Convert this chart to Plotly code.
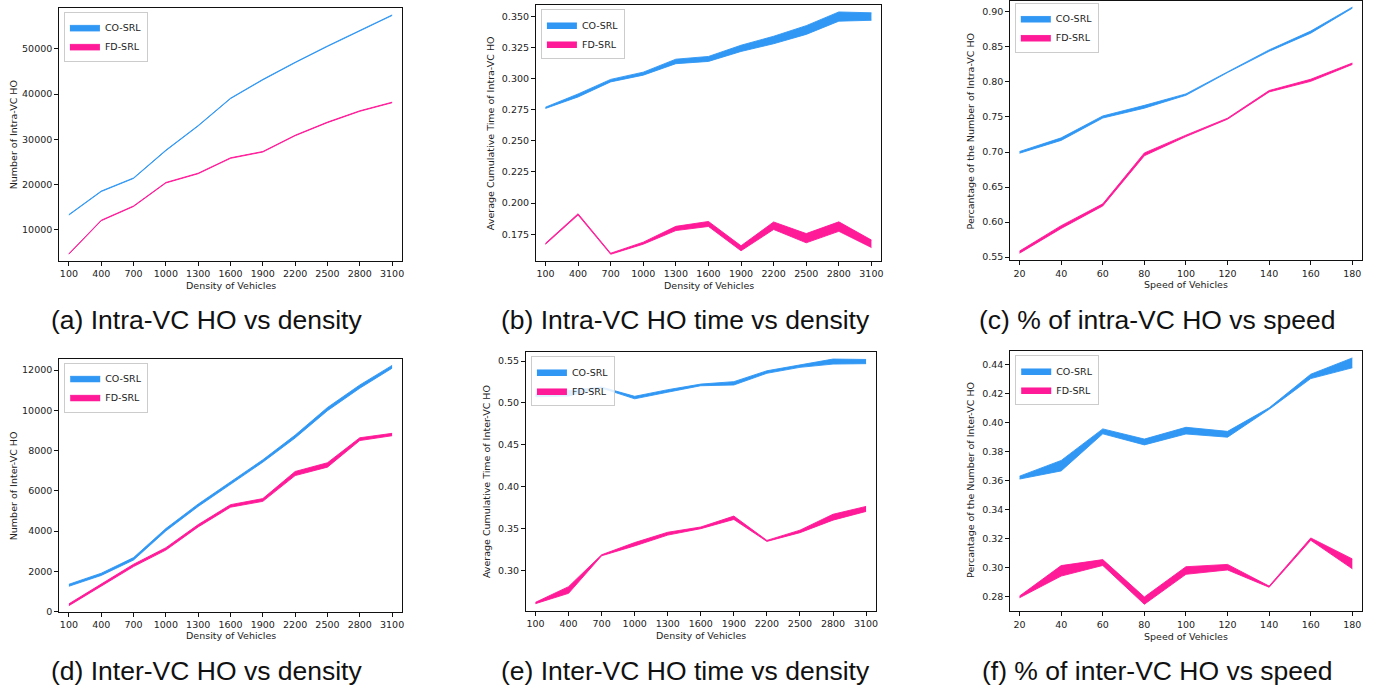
import plotly.graph_objects as go

W, H = 1373, 696

density = [100, 400, 700, 1000, 1300, 1600, 1900, 2200, 2500, 2800, 3100]
speed = [20, 40, 60, 80, 100, 120, 140, 160, 180]

# (a) number of intra-VC HO vs density
a_co_lo = [13240, 18440, 21340, 27490, 32940, 38990, 43140, 46940, 50540, 53940, 57390]
a_co_hi = [13360, 18560, 21460, 27610, 33060, 39110, 43260, 47060, 50660, 54060, 57510]
a_fd_lo = [4590, 11990, 15140, 20340, 22390, 25790, 27190, 30790, 33690, 36190, 38090]
a_fd_hi = [4710, 12110, 15260, 20460, 22510, 25910, 27310, 30910, 33810, 36310, 38210]

# (b) intra-VC HO time vs density
b_co_lo = [0.2760, 0.2852, 0.2973, 0.3027, 0.3119, 0.3137, 0.3217, 0.3279, 0.3354, 0.3460, 0.3467]
b_co_hi = [0.2770, 0.2876, 0.2993, 0.3051, 0.3155, 0.3177, 0.3267, 0.3339, 0.3424, 0.3534, 0.3527]
b_fd_lo = [0.1670, 0.1905, 0.1590, 0.1671, 0.1780, 0.1813, 0.1618, 0.1789, 0.1682, 0.1774, 0.1644]
b_fd_hi = [0.1678, 0.1915, 0.1598, 0.1687, 0.1814, 0.1853, 0.1658, 0.1849, 0.1756, 0.1850, 0.1704]

# (c) % of intra-VC HO vs speed
c_co_lo = [0.6983, 0.7166, 0.7485, 0.7626, 0.7810, 0.8135, 0.8438, 0.8697, 0.9054]
c_co_hi = [0.7007, 0.7202, 0.7515, 0.7666, 0.7830, 0.8149, 0.8458, 0.8727, 0.9068]
c_fd_lo = [0.5556, 0.5909, 0.6230, 0.6947, 0.7221, 0.7469, 0.7858, 0.8009, 0.8250]
c_fd_hi = [0.5586, 0.5949, 0.6260, 0.6987, 0.7241, 0.7483, 0.7878, 0.8039, 0.8270]

# (d) number of inter-VC HO vs density
d_co_lo = [1263, 1800, 2566, 4011, 5226, 6309, 7426, 8630, 9983, 11099, 12094]
d_co_hi = [1363, 1910, 2686, 4131, 5346, 6429, 7546, 8770, 10143, 11259, 12234]
d_fd_lo = [300, 1260, 2240, 3060, 4210, 5190, 5480, 6760, 7180, 8500, 8740]
d_fd_hi = [390, 1366, 2356, 3178, 4326, 5316, 5618, 6964, 7398, 8638, 8858]

# (e) inter-VC HO time vs density
e_co_lo = [0.5074, 0.5083, 0.5178, 0.5050, 0.5129, 0.5206, 0.5215, 0.5355, 0.5426, 0.5465, 0.5470]
e_co_hi = [0.5104, 0.5143, 0.5190, 0.5080, 0.5159, 0.5226, 0.5255, 0.5385, 0.5456, 0.5525, 0.5520]
e_fd_lo = [0.2602, 0.2725, 0.3174, 0.3292, 0.3421, 0.3498, 0.3608, 0.3346, 0.3450, 0.3600, 0.3704]
e_fd_hi = [0.2618, 0.2805, 0.3186, 0.3332, 0.3455, 0.3518, 0.3648, 0.3358, 0.3480, 0.3670, 0.3764]

# (f) % of inter-VC HO vs speed
f_co_lo = [0.3610, 0.3666, 0.3921, 0.3845, 0.3920, 0.3898, 0.4090, 0.4301, 0.4375]
f_co_hi = [0.3630, 0.3738, 0.3955, 0.3885, 0.3966, 0.3938, 0.4100, 0.4331, 0.4443]
f_fd_lo = [0.2794, 0.2943, 0.3016, 0.2749, 0.2955, 0.2985, 0.2866, 0.3189, 0.2993]
f_fd_hi = [0.2806, 0.3015, 0.3056, 0.2799, 0.3007, 0.3023, 0.2874, 0.3205, 0.3061]

series_names = ["CO-SRL", "FD-SRL"]
colors = ["#3197F4", "#FF1A98"]

panels = [
    dict(x=density, co=(a_co_lo, a_co_hi), fd=(a_fd_lo, a_fd_hi),
         xpx=(59.3, 402.7), ypx=(7, 262), xr=[10, 3193], yr=[3140, 59060],
         yticks=[10000, 20000, 30000, 40000, 50000], yfmt="d",
         xtitle="Density of Vehicles", ytitle="Number of Intra-VC HO",
         xt_y=286.5, yt_x=13, yt_y=134.5, leg=(64, 11),
         caption="(a) Intra-VC HO vs density", cap=(207, 322)),
    dict(x=density, co=(b_co_lo, b_co_hi), fd=(b_fd_lo, b_fd_hi),
         xpx=(536.7, 882.7), ypx=(4, 262), xr=[12, 3192], yr=[0.1538, 0.359],
         yticks=[0.175, 0.2, 0.225, 0.25, 0.275, 0.3, 0.325, 0.35], yfmt=".3f",
         xtitle="Density of Vehicles", ytitle="Average Cumulative Time of Intra-VC HO",
         xt_y=286.5, yt_x=492, yt_y=133, leg=(541.7, 8.5),
         caption="(b) Intra-VC HO time vs density", cap=(687, 322)),
    dict(x=speed, co=(c_co_lo, c_co_hi), fd=(c_fd_lo, c_fd_hi),
         xpx=(1011.7, 1364.3), ypx=(0, 261.7), xr=[15.5, 184.8], yr=[0.5452, 0.9156],
         yticks=[0.55, 0.6, 0.65, 0.7, 0.75, 0.8, 0.85, 0.9], yfmt=".2f",
         xtitle="Speed of Vehicles", ytitle="Percantage of the Number of Intra-VC HO",
         xt_y=286, yt_x=972.3, yt_y=130.7, leg=(1016.3, 2),
         caption="(c) % of intra-VC HO vs speed", cap=(1159, 322)),
    dict(x=density, co=(d_co_lo, d_co_hi), fd=(d_fd_lo, d_fd_hi),
         xpx=(59.3, 402.7), ypx=(360.7, 616), xr=[10, 3193], yr=[0, 12571],
         yticks=[0, 2000, 4000, 6000, 8000, 10000, 12000], yfmt="d",
         xtitle="Density of Vehicles", ytitle="Number of Inter-VC HO",
         xt_y=640.3, yt_x=13, yt_y=488.5, leg=(64.3, 365),
         caption="(d) Inter-VC HO vs density", cap=(207, 676)),
    dict(x=density, co=(e_co_lo, e_co_hi), fd=(e_fd_lo, e_fd_hi),
         xpx=(526.7, 877.7), ypx=(354, 615.3), xr=[13, 3194], yr=[0.2514, 0.561],
         yticks=[0.3, 0.35, 0.4, 0.45, 0.5, 0.55], yfmt=".2f",
         xtitle="Density of Vehicles", ytitle="Average Cumulative Time of Inter-VC HO",
         xt_y=640.3, yt_x=488, yt_y=485, leg=(531.7, 358.5),
         caption="(e) Inter-VC HO time vs density", cap=(687, 676)),
    dict(x=speed, co=(f_co_lo, f_co_hi), fd=(f_fd_lo, f_fd_hi),
         xpx=(1011.7, 1364.3), ypx=(352.7, 615.7), xr=[15.5, 184.8], yr=[0.27, 0.4493],
         yticks=[0.28, 0.3, 0.32, 0.34, 0.36, 0.38, 0.4, 0.42, 0.44], yfmt=".2f",
         xtitle="Speed of Vehicles", ytitle="Percantage of the Number of Inter-VC HO",
         xt_y=640.7, yt_x=972, yt_y=483.5, leg=(1016.7, 357.5),
         caption="(f) % of inter-VC HO vs speed", cap=(1159, 676)),
]

TICKFONT = dict(family="DejaVu Sans", size=9.5, color="#222222")
fig = go.Figure()
annotations = []

for i, p in enumerate(panels):
    n = "" if i == 0 else str(i + 1)
    xa, ya = "x" + n, "y" + n
    legname = "legend" + n
    for name, color, (lo, hi) in zip(series_names, colors, [p["co"], p["fd"]]):
        fig.add_trace(go.Scatter(
            x=p["x"], y=lo, mode="lines", line=dict(color=color, width=0.9),
            xaxis=xa, yaxis=ya, showlegend=False, hoverinfo="skip", legend=legname))
        fig.add_trace(go.Scatter(
            x=p["x"], y=hi, mode="lines", line=dict(color=color, width=0.9),
            fill="tonexty", fillcolor=color, name=name,
            xaxis=xa, yaxis=ya, showlegend=True, legend=legname))
    x0, x1 = p["xpx"]
    y0, y1 = p["ypx"]
    axis_common = dict(showline=True, mirror=True, linecolor="#111111", linewidth=1,
                       ticks="outside", ticklen=4, tickwidth=1, tickcolor="#111111",
                       showgrid=False, zeroline=False, tickfont=TICKFONT)
    fig.layout["xaxis" + n] = dict(
        domain=[x0 / W, x1 / W], anchor=ya, range=p["xr"],
        tickmode="array", tickvals=p["x"], ticktext=[str(v) for v in p["x"]],
        **axis_common)
    fig.layout["yaxis" + n] = dict(
        domain=[1 - y1 / H, 1 - y0 / H], anchor=xa, range=p["yr"],
        tickmode="array", tickvals=p["yticks"],
        ticktext=[format(v, p["yfmt"]) if p["yfmt"] != "d" else str(int(v)) for v in p["yticks"]],
        **axis_common)
    fig.layout[legname] = dict(
        x=p["leg"][0] / W, y=1 - p["leg"][1] / H, xanchor="left", yanchor="top",
        xref="paper", yref="paper",
        bgcolor="rgba(255,255,255,0.85)", bordercolor="#cccccc", borderwidth=1,
        font=dict(family="DejaVu Sans", size=9.5, color="#222222"),
        tracegroupgap=0, itemwidth=30, traceorder="normal")
    annotations.append(dict(
        text=p["xtitle"], x=(x0 + x1) / 2 / W, y=1 - p["xt_y"] / H,
        xref="paper", yref="paper", showarrow=False, xanchor="center", yanchor="middle",
        font=dict(family="DejaVu Sans", size=9.5, color="#222222")))
    annotations.append(dict(
        text=p["ytitle"], x=p["yt_x"] / W, y=1 - p["yt_y"] / H, textangle=-90,
        xref="paper", yref="paper", showarrow=False, xanchor="center", yanchor="middle",
        font=dict(family="DejaVu Sans", size=9.5, color="#222222")))
    annotations.append(dict(
        text=p["caption"], x=p["cap"][0] / W, y=1 - p["cap"][1] / H,
        xref="paper", yref="paper", showarrow=False, xanchor="center", yanchor="middle",
        font=dict(family="Liberation Sans, Arial, sans-serif", size=26.5, color="#111111")))

fig.update_layout(
    width=W, height=H, margin=dict(l=0, r=0, t=0, b=0),
    paper_bgcolor="white", plot_bgcolor="white",
    annotations=annotations, hovermode=False,
)

fig.write_html("out.html")
